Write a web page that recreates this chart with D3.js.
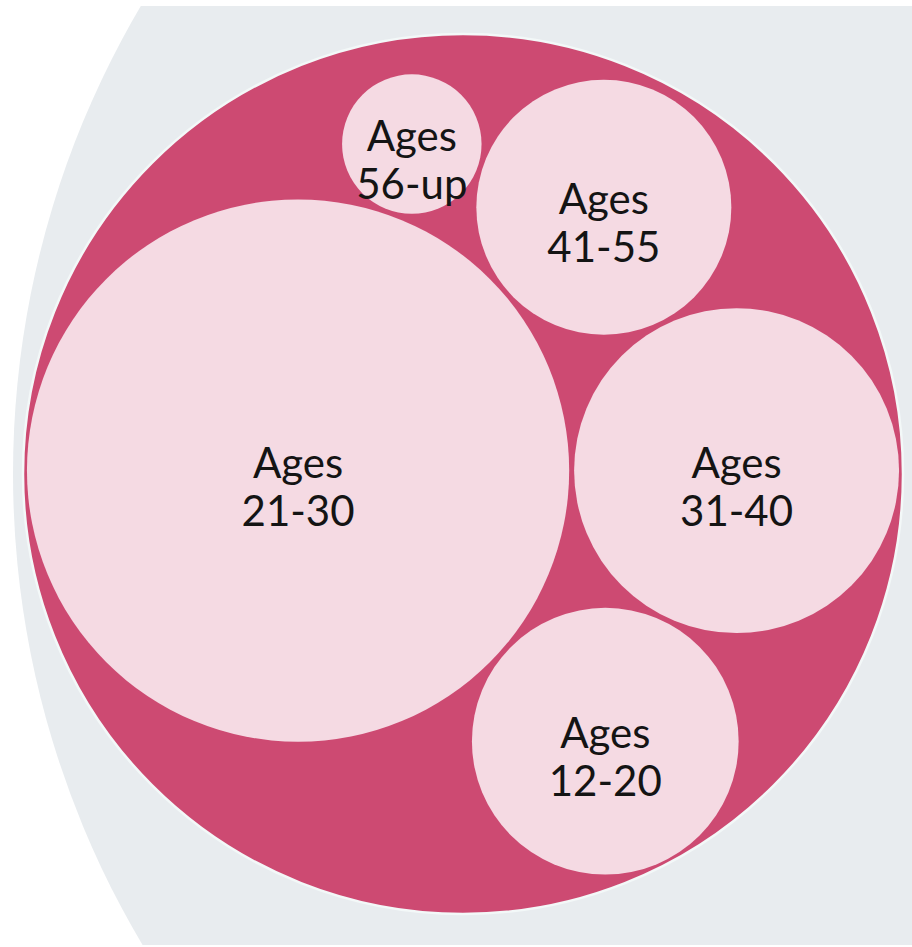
<!DOCTYPE html>
<html>
<head>
<meta charset="utf-8">
<script src="https://cdn.jsdelivr.net/npm/d3@7"></script>
<style>
  html, body { margin: 0; padding: 0; background: #ffffff; }
  svg { display: block; }
</style>
</head>
<body>
<script>
// Age groups and their share of the total (percent)
const ageRanges = ["21-30", "31-40", "12-20", "41-55", "56-up"];
const shares = [52.9, 19.0, 12.8, 11.7, 3.5];
const labelPrefix = "Ages";

// Page geometry
const width = 912, height = 947;
const frameTop = 6, frameBottom = 945;
const focusCenter = [463, 474];
const focusRadius = 441;
const packPadding = 5;
const parentScale = 2.088;   // parent ring radius relative to the focused group
const parentGap = 9;         // space between the group and the parent ring on its left

const colors = {
  parent: "#e8ecef",
  group: "#cd4a72",
  groupStroke: "#f3f8f8",
  leaf: "#f5dae3",
  text: "#141414"
};

const svg = d3.select("body").append("svg")
  .attr("width", width)
  .attr("height", height);

svg.append("clipPath").attr("id", "frame")
  .append("rect")
  .attr("x", 0).attr("y", frameTop)
  .attr("width", width).attr("height", frameBottom - frameTop);

// Hierarchy: one group node holding the age ranges
const data = {
  name: "All ages",
  children: ageRanges.map((range, i) => ({ name: range, value: shares[i] }))
};

const root = d3.hierarchy(data)
  .sum(d => d.value || 0)
  .sort((a, b) => b.value - a.value);

d3.pack()
  .size([focusRadius * 2, focusRadius * 2])
  .padding(packPadding)(root);

const view = svg.append("g").attr("clip-path", "url(#frame)");

// Parent ring, partly outside the frame
const parentR = root.r * parentScale;
const parentCx = focusCenter[0] - root.r - parentGap + parentR;
view.append("circle")
  .attr("cx", parentCx)
  .attr("cy", focusCenter[1])
  .attr("r", parentR)
  .attr("fill", colors.parent);

const g = view.append("g")
  .attr("transform", `translate(${focusCenter[0] - root.r},${focusCenter[1] - root.r})`);

g.selectAll("circle")
  .data(root.descendants())
  .join("circle")
  .attr("cx", d => d.x)
  .attr("cy", d => d.y)
  .attr("r", d => d.depth === 0 ? d.r - 1 : d.r)
  .attr("fill", d => d.depth === 0 ? colors.group : colors.leaf)
  .attr("stroke", d => d.depth === 0 ? colors.groupStroke : "none")
  .attr("stroke-width", d => d.depth === 0 ? 2.5 : 0);

// Two-line labels centred on each circle
const fontSize = 42, lineHeight = 48, baselineShift = 31;

const labels = g.selectAll("text")
  .data(root.leaves())
  .join("text")
  .attr("text-anchor", "middle")
  .attr("font-family", "Lato, 'Noto Sans', sans-serif")
  .attr("font-size", fontSize)
  .attr("fill", colors.text);

labels.each(function(d) {
  const lines = [labelPrefix, d.data.name];
  const t = d3.select(this);
  lines.forEach((line, i) => {
    t.append("tspan")
      .attr("x", d.x)
      .attr("y", d.y + (i - (lines.length - 1) / 2) * lineHeight + baselineShift)
      .text(line);
  });
});
</script>
</body>
</html>
